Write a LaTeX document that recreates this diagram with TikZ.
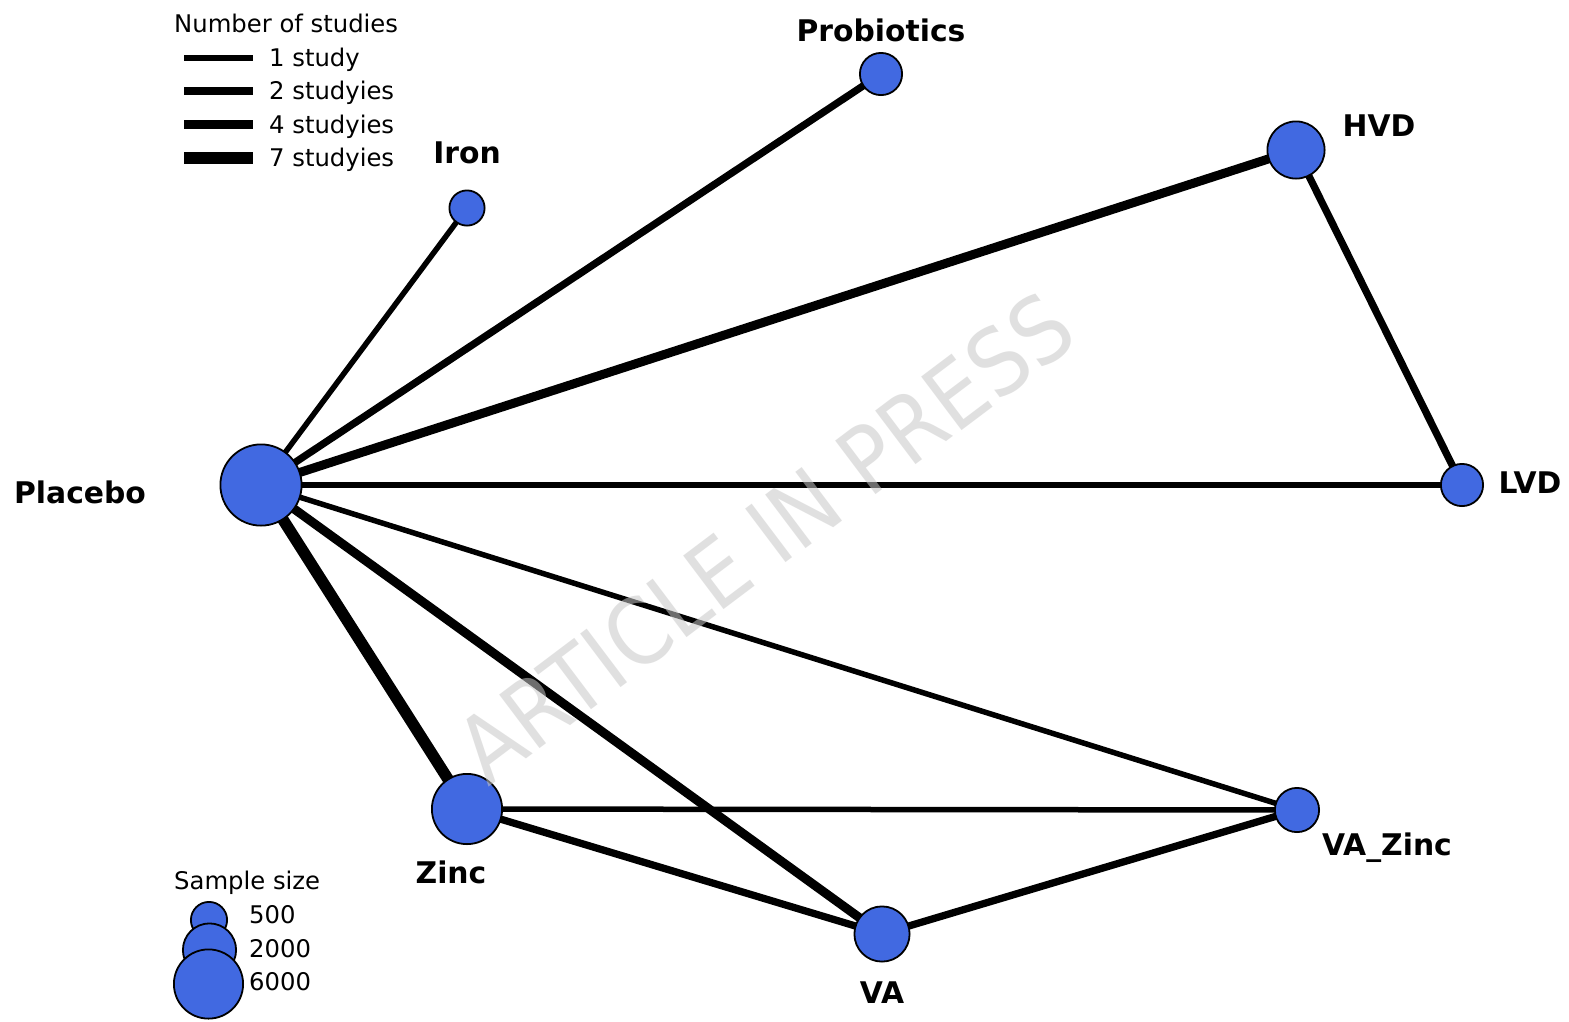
\documentclass[tikz,border=0pt]{standalone}
\usepackage{fontspec}
\setmainfont{DejaVu Sans}
\newfontfamily\wmfont{DejaVu Sans Condensed}
\usetikzlibrary{backgrounds}
\definecolor{ballblue}{HTML}{4169E1}
\definecolor{wmgray}{RGB}{200,200,200}
\begin{document}
\begin{tikzpicture}[x=1pt,y=-1pt,
  ballnode/.style={circle,draw=black,line width=1.8pt,fill=ballblue,inner sep=0pt,outer sep=0pt},
  lab/.style={font=\fontsize{29.8}{32}\selectfont\bfseries,anchor=base,inner sep=0pt},
  legtxt/.style={font=\fontsize{24.3}{28}\selectfont,anchor=base west,inner sep=0pt},
  eone/.style={line width=5.5pt,draw=black},
  etwo/.style={line width=7.3pt,draw=black},
  efour/.style={line width=9pt,draw=black},
  eseven/.style={line width=11.5pt,draw=black}]
\useasboundingbox (0,0) rectangle (1569,1021);

% nodes
\node[ballnode,minimum size=81.2pt] (pla) at (261,485) {};
\node[ballnode,minimum size=35.2pt] (iron) at (467,208) {};
\node[ballnode,minimum size=42.2pt] (prob) at (881,74) {};
\node[ballnode,minimum size=57.2pt] (hvd) at (1296,150) {};
\node[ballnode,minimum size=42.2pt] (lvd) at (1462,485) {};
\node[ballnode,minimum size=44.2pt] (vaz) at (1297,810) {};
\node[ballnode,minimum size=55.2pt] (va) at (882,934) {};
\node[ballnode,minimum size=70.2pt] (zinc) at (467,809) {};

% labels
\node[lab] (lpla) at (80,503) {Placebo};
\node[lab] (liron) at (467,163) {Iron};
\node[lab] (lprob) at (881,41) {Probiotics};
\node[lab] (lhvd) at (1379,136) {HVD};
\node[lab] (llvd) at (1530,493) {LVD};
\node[lab] (lvaz) at (1387,855) {VA\_Zinc};
\node[lab] (lva) at (882,1003) {VA};
\node[lab] (lzinc) at (451,883) {Zinc};

% legend: number of studies
\node[legtxt] (ltitle) at (174,32) {Number of studies};
\coordinate (la1) at (184,58);  \coordinate (lb1) at (253,58);
\coordinate (la2) at (184,91);  \coordinate (lb2) at (253,91);
\coordinate (la3) at (184,124); \coordinate (lb3) at (253,124);
\coordinate (la4) at (184,158); \coordinate (lb4) at (253,158);
\draw[eone] (la1) -- (lb1);
\draw[etwo] (la2) -- (lb2);
\draw[efour] (la3) -- (lb3);
\draw[eseven] (la4) -- (lb4);
\node[legtxt] (lt1) at (269,66) {1 study};
\node[legtxt] (lt2) at (269,99) {2 studyies};
\node[legtxt] (lt3) at (269,133) {4 studyies};
\node[legtxt] (lt4) at (269,166) {7 studyies};

% legend: sample size
\node[legtxt] (stitle) at (174,889) {Sample size};
\node[ballnode,minimum size=36.2pt] (s500) at (209,920) {};
\node[ballnode,minimum size=53.2pt] (s2000) at (209.5,950) {};
\node[ballnode,minimum size=69.2pt] (s6000) at (208.5,984) {};
\node[legtxt] (st1) at (249,923) {500};
\node[legtxt] (st2) at (249,957) {2000};
\node[legtxt] (st3) at (249,990) {6000};

\begin{pgfonlayer}{background}
  \fill[white] (0,0) rectangle (1569,1021);
  \draw[eone] (pla.center) -- (iron.center);
  \draw[etwo] (pla.center) -- (prob.center);
  \draw[efour] (pla.center) -- (hvd.center);
  \draw[eone] (pla.center) -- (lvd.center);
  \draw[eone] (pla.center) -- (vaz.center);
  \draw[efour] (pla.center) -- (va.center);
  \draw[eseven] (pla.center) -- (zinc.center);
  \draw[etwo] (hvd.center) -- (lvd.center);
  \draw[eone] (zinc.center) -- (vaz.center);
  \draw[etwo] (zinc.center) -- (va.center);
  \draw[etwo] (va.center) -- (vaz.center);
\end{pgfonlayer}

% watermark
\node[font=\wmfont\fontsize{92}{92}\selectfont,text=wmgray,text opacity=0.55,rotate=37,inner sep=0pt] (wmk) at (765,537) {ARTICLE IN PRESS};
\end{tikzpicture}
\end{document}
